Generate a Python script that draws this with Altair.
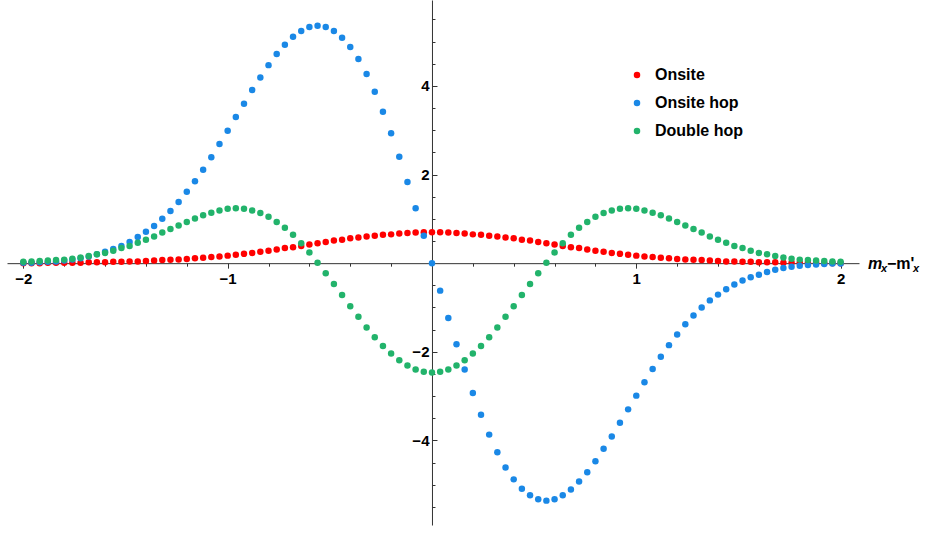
import altair as alt
import pandas as pd

# ---------------- data ----------------
x_vals = [round(-2 + 0.04 * i, 2) for i in range(101)]

series_names = ["Onsite", "Onsite hop", "Double hop"]
series_colors = ["#FF0000", "#1A88E6", "#22B36B"]

onsite = [
    0.00, 0.00, 0.00, 0.01, 0.01, 0.01, 0.01, 0.01, 0.02, 0.02,
    0.02, 0.03, 0.03, 0.04, 0.04, 0.05, 0.06, 0.07, 0.075, 0.085,
    0.095, 0.11, 0.12, 0.14, 0.15, 0.17, 0.19, 0.21, 0.23, 0.26,
    0.28, 0.31, 0.34, 0.36, 0.39, 0.42, 0.45, 0.48, 0.51, 0.53,
    0.56, 0.58, 0.60, 0.62, 0.64, 0.65, 0.67, 0.68, 0.69, 0.70,
    0.70,
    0.70, 0.69, 0.68, 0.67, 0.65, 0.64, 0.62, 0.60, 0.58, 0.56,
    0.53, 0.51, 0.48, 0.45, 0.42, 0.39, 0.36, 0.34, 0.31, 0.28,
    0.26, 0.23, 0.21, 0.19, 0.17, 0.15, 0.14, 0.12, 0.11, 0.095,
    0.085, 0.075, 0.07, 0.06, 0.05, 0.04, 0.04, 0.03, 0.03, 0.02,
    0.02, 0.02, 0.01, 0.01, 0.01, 0.01, 0.01, 0.00, 0.00, 0.00,
]

onsite_hop = [
    0.01, 0.01, 0.02, 0.03, 0.04, 0.06, 0.08, 0.11, 0.15, 0.20,
    0.26, 0.32, 0.39, 0.48, 0.59, 0.71, 0.84, 1.00, 1.18, 1.38,
    1.61, 1.85, 2.11, 2.39, 2.69, 2.99, 3.30, 3.60, 3.91, 4.19,
    4.47, 4.72, 4.93, 5.11, 5.24, 5.33, 5.36, 5.33, 5.24, 5.09,
    4.88, 4.61, 4.27, 3.87, 3.42, 2.93, 2.40, 1.83, 1.24, 0.62,
    0.00,
    -0.62, -1.24, -1.83, -2.40, -2.93, -3.42, -3.87, -4.27, -4.61, -4.88,
    -5.09, -5.24, -5.33, -5.36, -5.33, -5.24, -5.11, -4.93, -4.72, -4.47,
    -4.19, -3.91, -3.60, -3.30, -2.99, -2.69, -2.39, -2.11, -1.85, -1.61,
    -1.38, -1.18, -1.00, -0.84, -0.71, -0.59, -0.48, -0.39, -0.32, -0.26,
    -0.20, -0.15, -0.11, -0.08, -0.06, -0.04, -0.03, -0.02, -0.01, -0.01,
]

double_hop = [
    0.03, 0.04, 0.05, 0.06, 0.07, 0.08, 0.10, 0.13, 0.16, 0.20,
    0.23, 0.28, 0.34, 0.39, 0.46, 0.53, 0.60, 0.69, 0.77, 0.85,
    0.93, 1.01, 1.08, 1.14, 1.19, 1.23, 1.24, 1.23, 1.19, 1.13,
    1.05, 0.93, 0.80, 0.64, 0.45, 0.24, 0.01, -0.23, -0.47, -0.72,
    -0.97, -1.21, -1.45, -1.67, -1.87, -2.04, -2.19, -2.31, -2.40, -2.45,
    -2.47,
    -2.45, -2.40, -2.31, -2.19, -2.04, -1.87, -1.67, -1.45, -1.21, -0.97,
    -0.72, -0.47, -0.23, 0.01, 0.24, 0.45, 0.64, 0.80, 0.93, 1.05,
    1.13, 1.19, 1.23, 1.24, 1.23, 1.19, 1.14, 1.08, 1.01, 0.93,
    0.85, 0.77, 0.69, 0.60, 0.53, 0.46, 0.39, 0.34, 0.28, 0.23,
    0.20, 0.16, 0.13, 0.10, 0.08, 0.07, 0.06, 0.05, 0.04, 0.03,
]

x_major_ticks = [-2, -1, 1, 2]
x_minor_ticks = [round(-2 + 0.2 * i, 1) for i in range(21) if i % 5 != 0]
y_major_ticks = [-4, -2, 2, 4]
y_minor_ticks = [round(-5.5 + 0.5 * i, 1) for i in range(23) if i != 11 and round(-5.5 + 0.5 * i, 1) not in (-4, -2, 2, 4)]

# ---------------- table ----------------
rows = []
for name, ys in zip(series_names, [onsite, onsite_hop, double_hop]):
    for xv, yv in zip(x_vals, ys):
        rows.append({"x": xv, "y": yv, "series": name})
df = pd.DataFrame(rows)

# ---------------- layout ----------------
X_DOMAIN = [-2.08, 2.09]
Y_DOMAIN = [-5.91, 5.94]
W, H = 852, 525
x0_px = (0 - X_DOMAIN[0]) / (X_DOMAIN[1] - X_DOMAIN[0]) * W
y0_px = (Y_DOMAIN[1] - 0) / (Y_DOMAIN[1] - Y_DOMAIN[0]) * H

FONT = "Liberation Sans"
AXIS_COLOR = "#333333"
MINUS = "\u2212"
LABEL_EXPR = "replace(datum.label, '-', '" + MINUS + "')"

x_axis_major = alt.Axis(
    orient="bottom",
    values=x_major_ticks,
    offset=y0_px - H,
    title="",
    grid=False,
    tickSize=5,
    tickColor=AXIS_COLOR,
    domainColor=AXIS_COLOR,
    labelPadding=3,
    labelFont=FONT,
    labelFontSize=15,
    labelFontWeight="bold",
    labelColor="black",
    labelFlush=False,
    labelOverlap=False,
    format="d",
    labelExpr=LABEL_EXPR,
)
x_axis_minor = alt.Axis(
    orient="bottom",
    values=x_minor_ticks,
    offset=y0_px - H,
    title="",
    grid=False,
    domain=False,
    labels=False,
    tickSize=3,
    tickColor=AXIS_COLOR,
)

y_axis_major = alt.Axis(
    orient="right",
    values=y_major_ticks,
    offset=x0_px - W,
    title="",
    grid=False,
    tickSize=5,
    tickColor=AXIS_COLOR,
    domainColor=AXIS_COLOR,
    labelAlign="right",
    labelBaseline="middle",
    labelPadding=-8,
    labelFont=FONT,
    labelFontSize=15,
    labelFontWeight="bold",
    labelColor="black",
    labelFlush=False,
    labelOverlap=False,
    format="d",
    labelExpr=LABEL_EXPR,
)
y_axis_minor = alt.Axis(
    orient="right",
    values=y_minor_ticks,
    offset=x0_px - W,
    title="",
    grid=False,
    domain=False,
    labels=False,
    tickSize=3,
    tickColor=AXIS_COLOR,
)

legend = alt.Legend(
    title=None,
    orient="none",
    legendX=622,
    legendY=67,
    symbolType="circle",
    symbolSize=42,
    symbolStrokeWidth=0,
    symbolOpacity=1,
    labelFont=FONT,
    labelFontSize=16,
    labelFontWeight="bold",
    labelColor="black",
    labelOffset=10,
    rowPadding=12,
    padding=0,
)

x_scale = alt.Scale(domain=X_DOMAIN, nice=False, zero=False)
y_scale = alt.Scale(domain=Y_DOMAIN, nice=False, zero=False)

points = alt.Chart(df).mark_point(filled=True, opacity=1, size=42, strokeWidth=0).encode(
    x=alt.X("x:Q", scale=x_scale, axis=x_axis_major),
    y=alt.Y("y:Q", scale=y_scale, axis=y_axis_major),
    color=alt.Color("series:N", scale=alt.Scale(domain=series_names, range=series_colors), legend=legend),
)

# axis title m_x - m'_x, anchored at the right end of the x axis
anchor = pd.DataFrame({"x": [X_DOMAIN[1]], "y": [0.0]})
title_pieces = [
    ("m", "italic", 16, 9, 6),
    ("x", "italic", 11, 22, 9),
    (MINUS + "m'", "normal", 16, 28, 6),
    ("x", "italic", 11, 54, 9),
]
title_layers = []
for i, (txt, style, size, dx, dy) in enumerate(title_pieces):
    if i == 0:
        xa, ya = x_axis_minor, y_axis_minor
    else:
        xa, ya = None, None
    title_layers.append(
        alt.Chart(anchor).mark_text(
            text=txt, font=FONT, fontSize=size, fontWeight="bold", fontStyle=style,
            align="left", baseline="alphabetic", dx=dx, dy=dy, color="black",
        ).encode(
            x=alt.X("x:Q", scale=x_scale, axis=xa),
            y=alt.Y("y:Q", scale=y_scale, axis=ya),
        )
    )

chart = alt.layer(points, *title_layers).resolve_axis(
    x="independent", y="independent"
).properties(
    width=W,
    height=H,
    autosize=alt.AutoSizeParams(type="none"),
    padding={"left": 7, "top": 0, "right": 68, "bottom": 8},
    background="white",
).configure_view(stroke="transparent")

chart.save("out.html", embed_options={"renderer": "svg", "actions": False})
